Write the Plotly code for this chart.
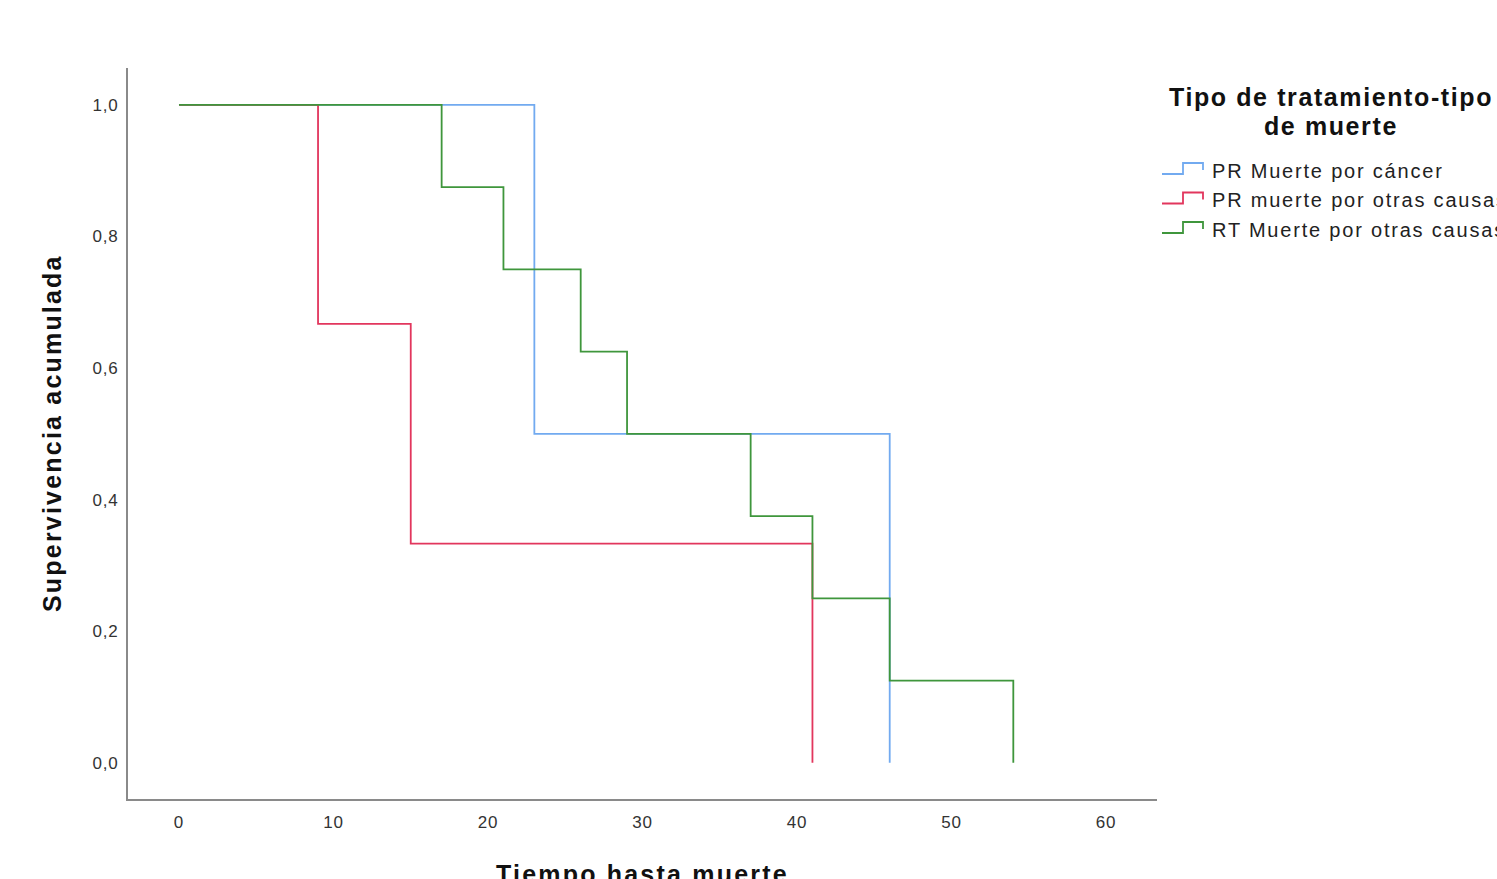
import plotly.graph_objects as go

# Kaplan-Meier step data: event times and cumulative survival after each step
pr_cancer_t = [0, 23, 46]
pr_cancer_s = [1.0, 0.5, 0.0]

pr_otras_t = [0, 9, 15, 41]
pr_otras_s = [1.0, 0.667, 0.333, 0.0]

rt_otras_t = [0, 17, 21, 26, 29, 37, 41, 46, 54]
rt_otras_s = [1.0, 0.875, 0.75, 0.625, 0.5, 0.375, 0.25, 0.125, 0.0]

series_names = ["PR Muerte por cáncer", "PR muerte por otras causas", "RT Muerte por otras causas"]
series_colors = ["#72aaf0", "#e2365d", "#3f963c"]

x_ticks = [0, 10, 20, 30, 40, 50, 60]
y_ticks = [0.0, 0.2, 0.4, 0.6, 0.8, 1.0]

W, H = 1497, 879
ML, MR, MT, MB = 128, 340, 68, 80
PW, PH = W - ML - MR, H - MT - MB


def px(x):
    return (x - ML) / PW


def py(y):
    return (H - MB - y) / PH


def spaced(text, ls):
    return f'<span style="letter-spacing:{ls}px">{text}</span>'


FONT = "Arial, 'Liberation Sans', sans-serif"

fig = go.Figure()
for t, s, name, col in zip([pr_cancer_t, pr_otras_t, rt_otras_t],
                           [pr_cancer_s, pr_otras_s, rt_otras_s],
                           series_names, series_colors):
    fig.add_trace(go.Scatter(x=t, y=s, mode="lines", line_shape="hv",
                             line=dict(color=col, width=1.8), name=name,
                             showlegend=False))

fig.update_layout(
    width=W, height=H,
    margin=dict(l=ML, r=MR, t=MT, b=MB),
    paper_bgcolor="white", plot_bgcolor="white",
    font=dict(family=FONT, color="#333333"),
)
fig.update_xaxes(range=[-3.3, 63.3], tickvals=x_ticks,
                 ticktext=[spaced(str(v), 0.8) for v in x_ticks],
                 showgrid=False, zeroline=False, showline=True,
                 linecolor="#8a8a8a", linewidth=2, ticks="",
                 ticklabelstandoff=7,
                 tickfont=dict(size=17, color="#333333"))
fig.update_yaxes(range=[-0.055, 1.056], tickvals=y_ticks,
                 ticktext=[spaced(f"{v:.1f}".replace(".", ","), 0.8) for v in y_ticks],
                 showgrid=False, zeroline=False, showline=True,
                 linecolor="#8a8a8a", linewidth=2, ticks="",
                 ticklabelstandoff=4,
                 tickfont=dict(size=17, color="#333333"))

# Axis titles
fig.add_annotation(text="<b>" + spaced("Tiempo hasta muerte", 2.2) + "</b>",
                   xref="paper", yref="paper",
                   x=0.5, y=py(858), xanchor="center", yanchor="top",
                   showarrow=False, font=dict(size=25, color="#111111", family=FONT))
fig.add_annotation(text="<b>" + spaced("Supervivencia acumulada", 2.2) + "</b>",
                   xref="paper", yref="paper",
                   x=px(52), y=py(433), xanchor="center", yanchor="middle",
                   textangle=-90, showarrow=False,
                   font=dict(size=25, color="#111111", family=FONT))

# Legend drawn by hand: title, step glyphs and labels
for line, yc in [("Tipo de tratamiento-tipo", 97), ("de muerte", 126)]:
    fig.add_annotation(text="<b>" + spaced(line, 1.6) + "</b>",
                       xref="paper", yref="paper", x=px(1331), y=py(yc),
                       xanchor="center", yanchor="middle", align="center",
                       showarrow=False, font=dict(size=25, color="#111111", family=FONT))
for i, (name, col) in enumerate(zip(series_names, series_colors)):
    yc = 171 + 29.5 * i
    pts = [(1162, yc + 3), (1183, yc + 3), (1183, yc - 8), (1203, yc - 8), (1203, yc - 1)]
    path = "M " + " L ".join(f"{px(a)},{py(b)}" for a, b in pts)
    fig.add_shape(type="path", path=path, xref="paper", yref="paper",
                  line=dict(color=col, width=1.8))
    fig.add_annotation(text=spaced(name, 1.8), xref="paper", yref="paper",
                       x=px(1210), y=py(yc), xanchor="left", yanchor="middle",
                       showarrow=False, font=dict(size=20, color="#222222", family=FONT))

fig.write_html("out.html")
